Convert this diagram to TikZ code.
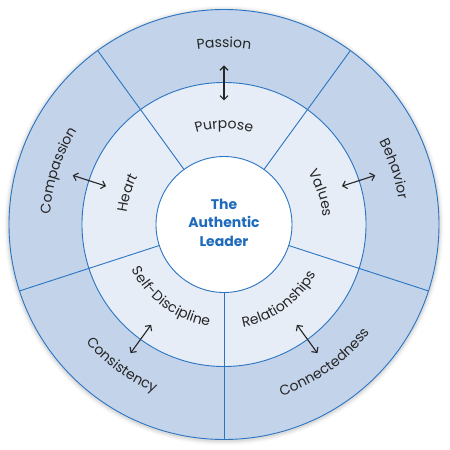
\documentclass[tikz,border=0pt]{standalone}
\usepackage{fontspec}
\setmainfont{Poppins}
\usetikzlibrary{decorations.text,arrows.meta}
\definecolor{outerfill}{HTML}{C3D3EA}
\definecolor{midfill}{HTML}{E6EDF7}
\definecolor{ringline}{HTML}{2A74C2}
\definecolor{titleblue}{HTML}{1E6BBD}
\definecolor{labelgray}{HTML}{262626}
\newcommand\lblfont{\fontsize{14}{16}\selectfont}
% clockwise arc text (tops outward): angle, baseline radius, text
\newcommand\cwtext[3]{%
  \path[decorate, decoration={text along path, text align=center, text color=labelgray,
    text={|\lblfont|#3}}] (#1+60:#2) arc[start angle=#1+60, end angle=#1-60, radius=#2];}
% counterclockwise arc text (tops inward)
\newcommand\ccwtext[3]{%
  \path[decorate, decoration={text along path, text align=center, text color=labelgray,
    text={|\lblfont|#3}}] (#1-60:#2) arc[start angle=#1-60, end angle=#1+60, radius=#2];}
\tikzset{
  ringstroke/.style={draw=ringline, line width=0.9pt},
  linkarrow/.style={draw=labelgray, line width=1.1pt, {Straight Barb[length=4pt,width=8pt]}-{Straight Barb[length=4pt,width=8pt]}},
}
\begin{document}
\begin{tikzpicture}
\useasboundingbox (-224pt,-225.5pt) rectangle (226pt,224.5pt);
% soft shadow
\foreach \i/\o in {1/0.05,2/0.04,3/0.03,4/0.02,5/0.015}{
  \fill[black,opacity=\o] (0,-1pt) circle (215pt+\i pt);
}
\fill[outerfill] (0,0) circle (215pt);
\fill[midfill] (0,0) circle (142pt);
\fill[white] (0,0) circle (68pt);
\foreach \a in {54,126,198,270,342}
  \draw[ringstroke] (\a:68pt) -- (\a:215pt);
\draw[ringstroke] (0,0) circle (215pt);
\draw[ringstroke] (0,0) circle (142pt);
\draw[ringstroke] (0,0) circle (68pt);
% arrows across the ring boundary
\foreach \a/\n in {90/p,162/h,18/v,234/s,306/r}{
  \coordinate (\n in) at (\a:124pt);
  \coordinate (\n out) at (\a:159pt);
  \draw[linkarrow] (\n in) -- (\n out);
}
% labels
\cwtext{90}{177pt}{Passion}
\cwtext{90}{96pt}{Purpose}
\cwtext{162}{174pt}{Compassion}
\cwtext{162}{98pt}{Heart}
\cwtext{18}{176pt}{Behavior}
\cwtext{18}{99pt}{Values}
\ccwtext{234}{181.5pt}{Consistency}
\ccwtext{234}{102.5pt}{Self-Discipline}
\ccwtext{306}{181pt}{Connectedness}
\ccwtext{306}{104.5pt}{Relationships}
\node[text=titleblue, font=\bfseries\fontsize{14}{18.5}\selectfont, align=center] (title) at (0,2pt) {The\\Authentic\\Leader};
\end{tikzpicture}
\end{document}
